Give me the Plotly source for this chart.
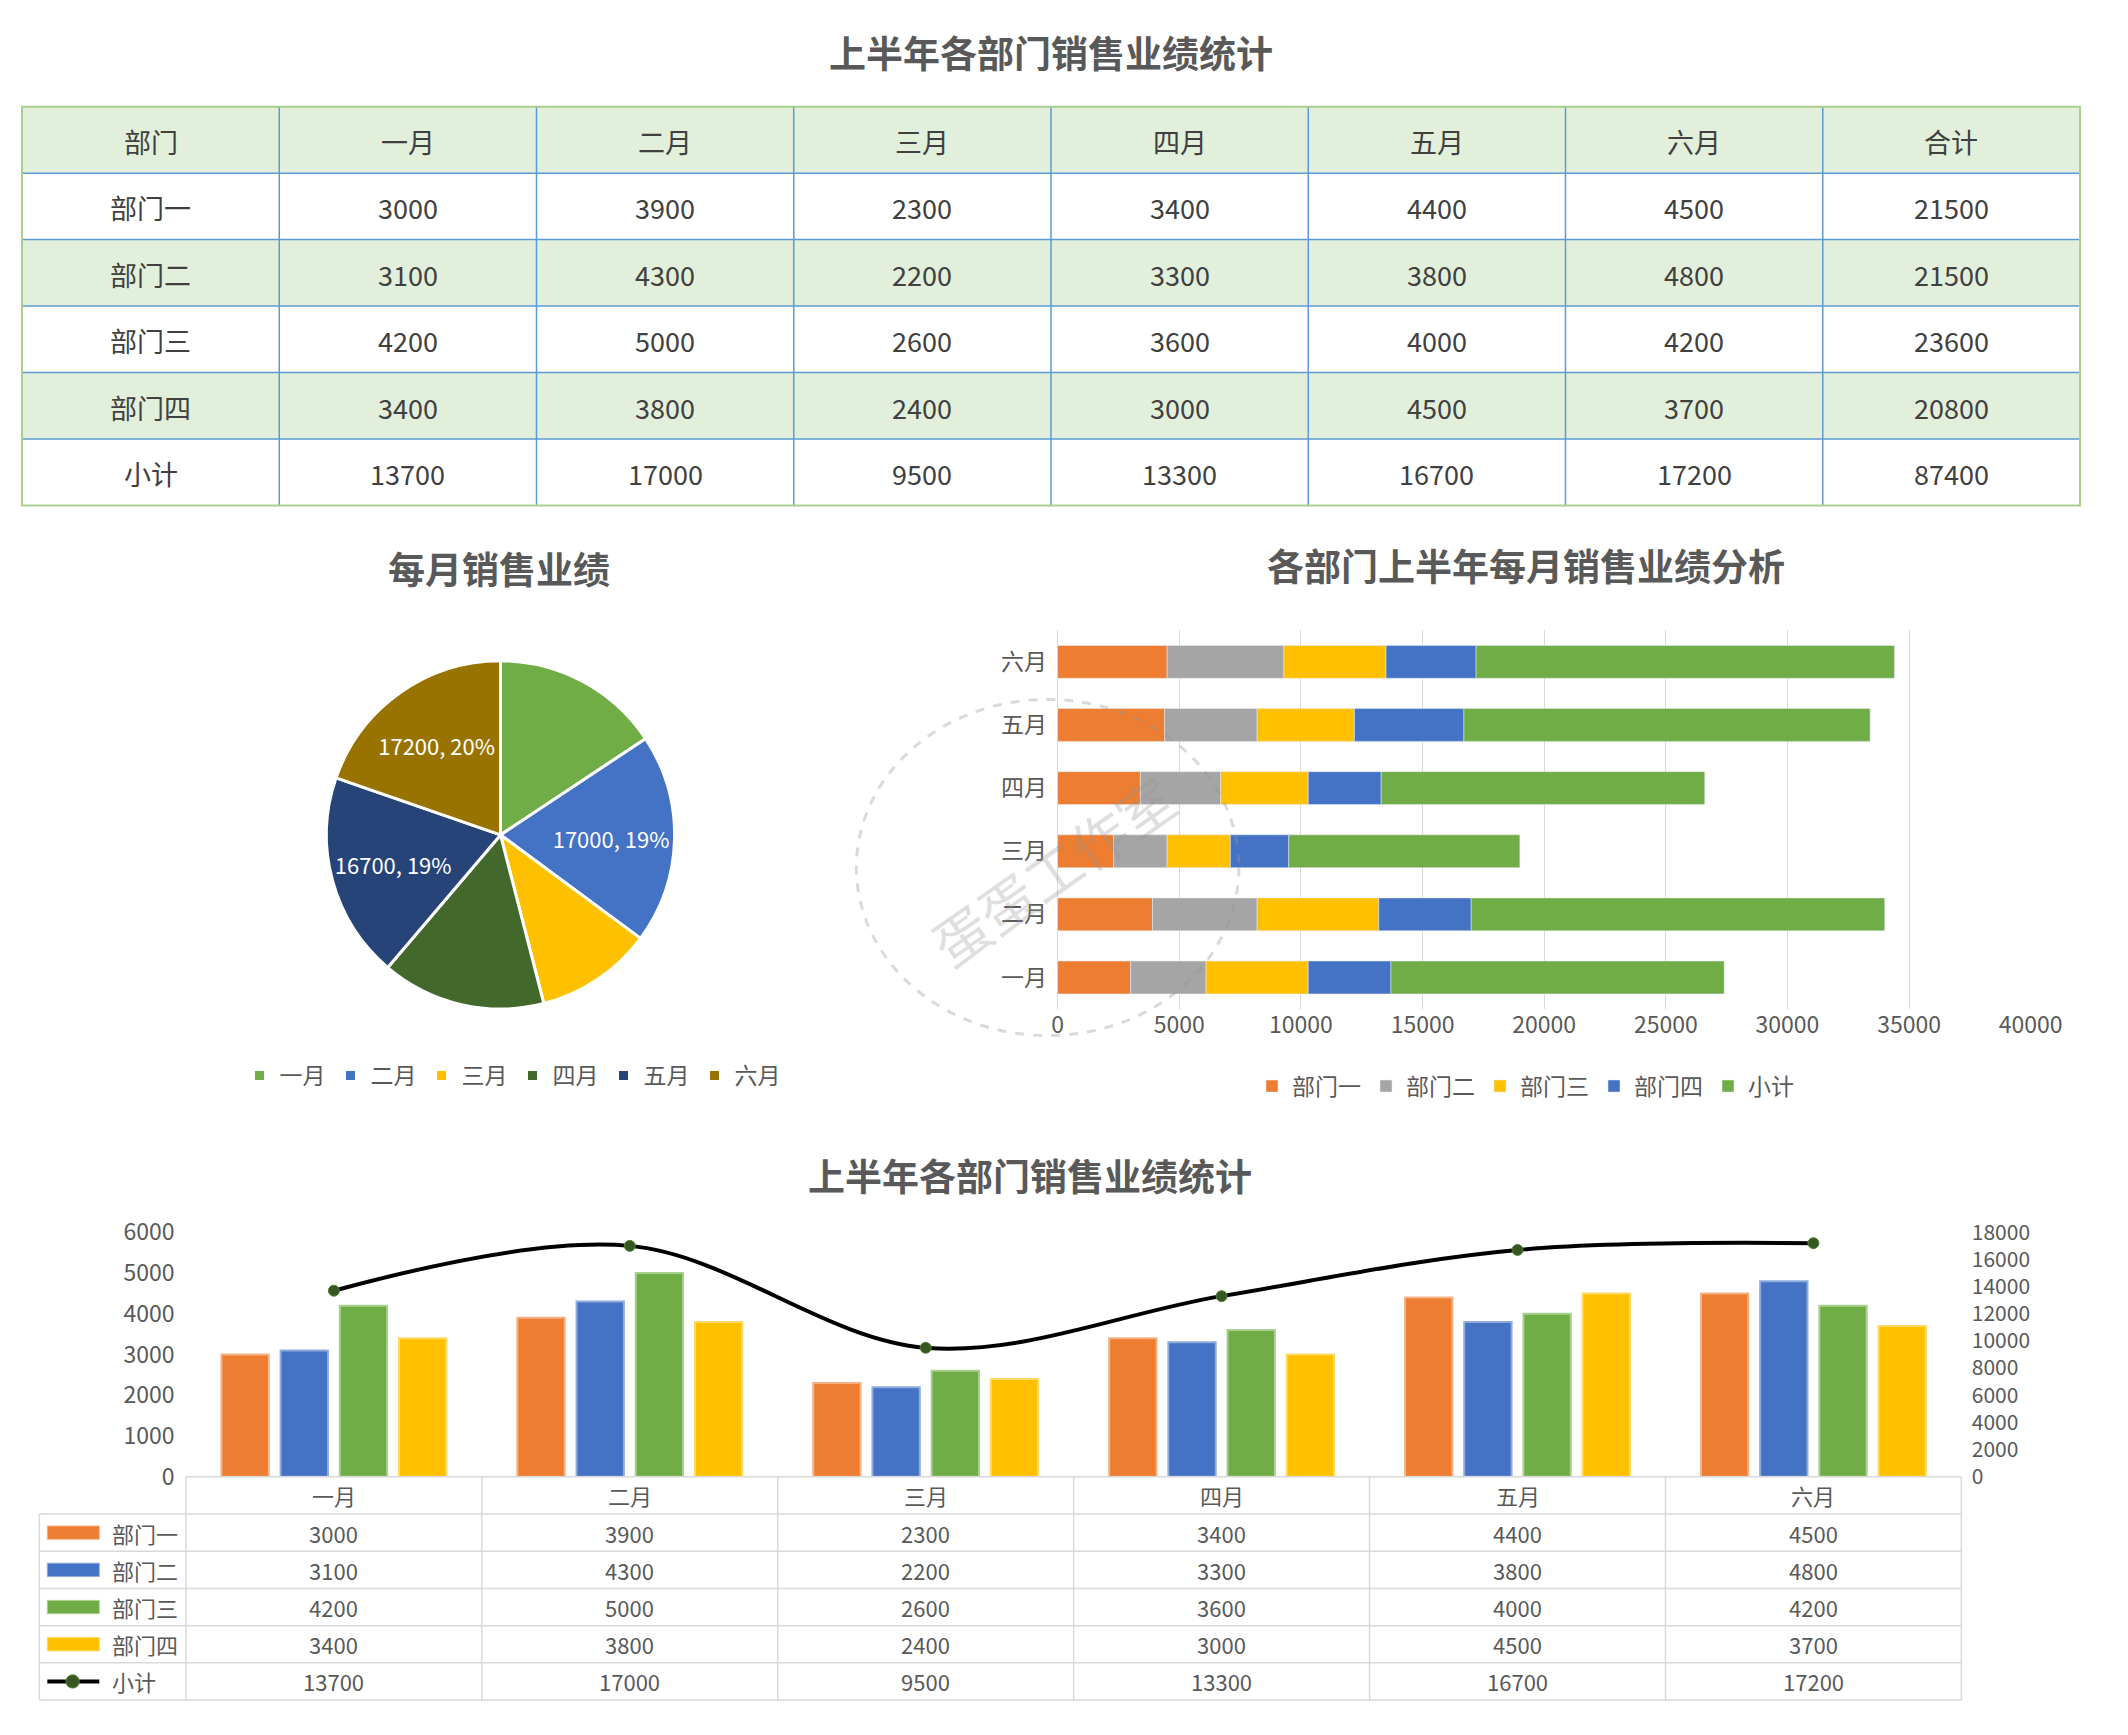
import plotly.graph_objects as go

months = ["一月", "二月", "三月", "四月", "五月", "六月"]
depts = ["部门一", "部门二", "部门三", "部门四"]
d1 = [3000, 3900, 2300, 3400, 4400, 4500]
d2 = [3100, 4300, 2200, 3300, 3800, 4800]
d3 = [4200, 5000, 2600, 3600, 4000, 4200]
d4 = [3400, 3800, 2400, 3000, 4500, 3700]
subtotal = [13700, 17000, 9500, 13300, 16700, 17200]
dept_totals = [21500, 21500, 23600, 20800]
grand_total = 87400

W, H = 1568, 1280
def fx(x): return x / W
def fy(y): return 1 - y / H

FONT = "Noto Sans CJK SC"
TXT = "#404040"
fig = go.Figure()
shapes = []
ann = []

def txt(s, x, y, size, color, xanchor="center", **kw):
    d = dict(text=str(s), x=fx(x), y=fy(y), xref="paper", yref="paper", showarrow=False,
             xanchor=xanchor, yanchor="middle", font=dict(family=FONT, size=size, color=color))
    d.update(kw)
    ann.append(d)

def line(x0, y0, x1, y1, color, width=1):
    shapes.append(dict(type="line", xref="paper", yref="paper", x0=fx(x0), y0=fy(y0),
                       x1=fx(x1), y1=fy(y1), line=dict(color=color, width=width)))

# ---- top table (drawn)
series = [d1, d2, d3, d4]
header = ["部门"] + months + ["合计"]
rows = [[depts[i]] + series[i] + [dept_totals[i]] for i in range(4)]
rows.append(["小计"] + subtotal + [grand_total])
tx0, tx1, ty0, rh = 12, 1556, 66, 50
cw = (tx1 - tx0) / len(header)
all_rows = [header] + rows
fills = ["#E2EFDA", "white", "#E2EFDA", "white", "#E2EFDA", "white"]
for r, row in enumerate(all_rows):
    y0 = ty0 + r * rh
    shapes.append(dict(type="rect", xref="paper", yref="paper", x0=fx(tx0), x1=fx(tx1),
                       y0=fy(y0 + rh), y1=fy(y0), fillcolor=fills[r], line=dict(width=0), layer="below"))
    for c, v in enumerate(row):
        txt(v, tx0 + (c + 0.5) * cw, y0 + rh / 2 + 1, 27, TXT)
ty1 = ty0 + rh * len(all_rows)
for r in range(1, len(all_rows)):
    line(tx0, ty0 + r * rh, tx1, ty0 + r * rh, "#5B9BD5", 1.5)
for c in range(1, len(header)):
    line(tx0 + c * cw, ty0, tx0 + c * cw, ty1, "#5B9BD5", 1.5)
shapes.append(dict(type="rect", xref="paper", yref="paper", x0=fx(tx0), x1=fx(tx1),
                   y0=fy(ty1), y1=fy(ty0), line=dict(color="#A9D08E", width=2)))

# ---- pie
pie_colors = ["#70AD47", "#4472C4", "#FFC000", "#43682B", "#264478", "#997300"]
show = [False, True, False, False, True, True]
tot = sum(subtotal)
ptext = [f"{v}, {round(v / tot * 100)}%" if s else "" for v, s in zip(subtotal, show)]
fig.add_trace(go.Pie(
    labels=months, values=subtotal, sort=False, direction="clockwise", rotation=0,
    marker=dict(colors=pie_colors, line=dict(color="white", width=3)),
    text=ptext, textinfo="text", textposition="inside", insidetextorientation="horizontal",
    insidetextfont=dict(family=FONT, size=22, color="white"),
    domain=dict(x=[fx(240), fx(502)], y=[fy(745), fy(483)]), legend="legend",
))

# ---- stacked horizontal bars
bar_names = depts + ["小计"]
bar_colors = ["#ED7D31", "#A5A5A5", "#FFC000", "#4472C4", "#70AD47"]
for name, vals, c in zip(bar_names, series + [subtotal], bar_colors):
    fig.add_trace(go.Bar(y=months, x=vals, name=name, orientation="h", marker_color=c,
                         xaxis="x", yaxis="y", legend="legend2"))

# ---- bottom combo
grad = [("#ED7D31", "#F4B183"), ("#4472C4", "#8FAADC"), ("#70AD47", "#A9D18E"), ("#FFC000", "#FFD966")]
offs = [-0.38, -0.18, 0.02, 0.22]
for name, vals, (c, lc), o in zip(depts, series, grad, offs):
    fig.add_trace(go.Bar(x=months, y=vals, name=name, width=0.16, offset=o, offsetgroup=name,
                         marker=dict(color=c, line=dict(color=lc, width=2)),
                         xaxis="x2", yaxis="y2", showlegend=False))
fig.add_trace(go.Scatter(x=months, y=subtotal, name="小计", mode="lines+markers",
                         line=dict(color="black", width=4, shape="spline"),
                         marker=dict(color="#375623", size=11, line=dict(color="#548235", width=1)),
                         xaxis="x2", yaxis="y3", showlegend=False))

# ---- bottom data table (drawn)
bx0, bfc, bx1 = 25, 135, 1467
bcw = (bx1 - bfc) / 6
by0, brh = 1097, 28
GRID = "#D9D9D9"
for j, m in enumerate(months):
    txt(m, bfc + (j + 0.5) * bcw, by0 + brh / 2, 22, "#595959")
brows = series + [subtotal]
for i, (name, vals) in enumerate(zip(bar_names, brows)):
    yc = by0 + (i + 1.5) * brh
    txt(name, 78, yc, 22, "#595959", xanchor="left")
    for j, v in enumerate(vals):
        txt(v, bfc + (j + 0.5) * bcw, yc, 22, "#595959")
    if i < 4:
        c, lc = grad[i]
        shapes.append(dict(type="rect", xref="paper", yref="paper", x0=fx(31), x1=fx(70),
                           y0=fy(yc + 5), y1=fy(yc - 5), fillcolor=c, line=dict(color=lc, width=1)))
    else:
        line(31, yc, 70, yc, "black", 4)
        shapes.append(dict(type="circle", xref="paper", yref="paper", x0=fx(45), x1=fx(55),
                           y0=fy(yc + 5), y1=fy(yc - 5), fillcolor="#375623", line=dict(color="#548235", width=1)))
bend = by0 + 6 * brh
line(bfc, by0, bx1, by0, GRID, 1.5)
for r in range(1, 7):
    line(bx0, by0 + r * brh, bx1, by0 + r * brh, GRID, 1.5)
line(bx0, by0 + brh, bx0, bend, GRID, 1.5)
for j in range(7):
    line(bfc + j * bcw, by0, bfc + j * bcw, bend, GRID, 1.5)

# watermark
shapes.append(dict(type="circle", xref="paper", yref="paper", x0=fx(638), x1=fx(925),
                   y0=fy(765), y1=fy(512), line=dict(color="rgba(150,150,150,0.35)", width=3, dash="dash")))
txt("蛋蛋工作室", 785, 640, 56, "rgba(150,150,150,0.3)", textangle=-35)

for t, x, y in [("上半年各部门销售业绩统计", 784, 25), ("每月销售业绩", 370, 413),
                ("各部门上半年每月销售业绩分析", 1140, 411), ("上半年各部门销售业绩统计", 768, 870)]:
    txt(f"<b>{t}</b>", x, y, 37, "#595959")

tick = dict(family=FONT, size=23, color="#595959")
fig.update_layout(
    width=2128, height=1735, paper_bgcolor="white", plot_bgcolor="white",
    font=dict(family=FONT),
    margin=dict(l=0, r=0, t=0, b=0), barmode="relative", bargap=0.48,
    shapes=shapes, annotations=ann,
    legend=dict(orientation="h", x=fx(380), y=fy(795), xanchor="center", yanchor="middle",
                font=dict(family=FONT, size=23, color="#595959"), itemwidth=30),
    legend2=dict(orientation="h", x=fx(1140), y=fy(803), xanchor="center", yanchor="middle",
                 font=dict(family=FONT, size=23, color="#595959"), itemwidth=30),
    xaxis=dict(domain=[fx(789), fx(1519)], anchor="y", range=[0, 40000], dtick=5000, tickformat="d",
               showgrid=True, gridcolor="#D9D9D9", zeroline=False, tickfont=tick),
    yaxis=dict(domain=[fy(745), fy(460)], anchor="x", tickfont=tick, ticksuffix=" ",
               showline=True, linecolor="#D9D9D9"),
    xaxis2=dict(domain=[fx(135), fx(1467)], anchor="y2", showticklabels=False, range=[-0.5, 5.5]),
    yaxis2=dict(domain=[fy(1097), fy(913)], anchor="x2", range=[0, 6000], dtick=1000,
                showgrid=False, zeroline=False, tickfont=tick, ticksuffix="  "),
    yaxis3=dict(overlaying="y2", side="right", anchor="x2", range=[0, 18000], dtick=2000,
                showgrid=False, zeroline=False, tickformat="d",
                tickfont=dict(family=FONT, size=21, color="#595959"), tickprefix="  "),
)
fig.write_html("out.html", config={"displayModeBar": False},
               post_script="document.body.style.margin='0';document.body.style.overflow='hidden';")
